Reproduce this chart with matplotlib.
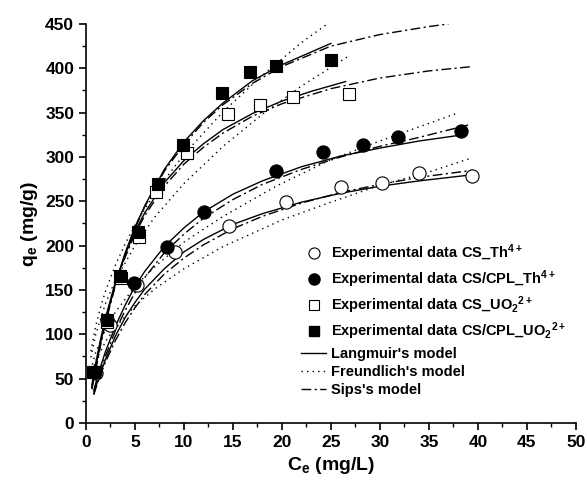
#!/usr/bin/env python3

import numpy as np
import matplotlib
matplotlib.use("Agg")
import matplotlib.pyplot as plt
from matplotlib.lines import Line2D
from matplotlib.ticker import MultipleLocator

plt.rcParams["font.family"] = ["Liberation Sans", "DejaVu Sans"]
plt.rcParams["font.weight"] = "bold"
plt.rcParams["mathtext.fontset"] = "custom"
plt.rcParams["mathtext.rm"] = "Liberation Sans:bold"
plt.rcParams["mathtext.bf"] = "Liberation Sans:bold"
plt.rcParams["mathtext.default"] = "bf"

# experimental data (Ce, qe)
cs_th_x = [1.0, 2.4, 5.2, 9.1, 14.6, 20.4, 26.0, 30.2, 34.0, 39.4]
cs_th_y = [56, 111, 156, 193, 222, 249, 266, 271, 282, 279]

cpl_th_x = [0.9, 2.1, 4.9, 8.3, 12.0, 19.4, 24.2, 28.3, 31.8, 38.3]
cpl_th_y = [57, 116, 158, 198, 238, 284, 306, 313, 323, 329]

cs_uo2_x = [0.75, 2.1, 3.6, 5.4, 7.1, 10.3, 14.5, 17.8, 21.1, 26.8]
cs_uo2_y = [57, 114, 163, 210, 261, 304, 348, 359, 368, 371]

cpl_uo2_x = [0.8, 2.1, 3.5, 5.3, 7.3, 9.9, 13.9, 16.7, 19.4, 25.0]
cpl_uo2_y = [57, 116, 166, 215, 269, 314, 372, 396, 402, 409]

# model curves
lang_uo2_cpl_x = [0.6, 1, 1.5, 2, 3, 4, 5, 6, 8, 10, 12, 14, 17, 20, 25]
lang_uo2_cpl_y = [40, 64, 91, 116, 157, 192, 221, 245, 286, 317, 341, 361, 386, 404, 428]
sips_uo2_cpl_x = [0.6, 1, 1.5, 2, 3, 4, 5, 6, 8, 10, 12, 14, 17, 20, 25, 30, 35, 37]
sips_uo2_cpl_y = [38, 60, 88, 113, 155, 190, 219, 244, 284, 314, 339, 359, 383, 402, 425, 438, 447, 450]
freu_uo2_cpl_x = [0.5, 1, 1.5, 2, 3, 4, 5, 7, 10, 14, 18, 22, 24.5]
freu_uo2_cpl_y = [81, 110, 131, 149, 178, 202, 223, 259, 303, 351, 392, 429, 449]

lang_uo2_cs_x = [0.6, 1, 1.5, 2, 3, 4, 5, 6, 8, 10, 12, 14, 17, 20, 23, 26.5]
lang_uo2_cs_y = [43, 68, 95, 119, 159, 190, 216, 237, 271, 296, 315, 331, 349, 363, 374, 385]
sips_uo2_cs_x = [0.6, 1, 1.5, 2, 3, 4, 5, 6, 8, 10, 12, 14, 17, 20, 25, 30, 35, 39.5]
sips_uo2_cs_y = [40, 64, 92, 116, 156, 187, 213, 234, 267, 292, 311, 327, 346, 360, 377, 389, 397, 402]
freu_uo2_cs_x = [0.5, 1, 2, 3, 5, 7, 10, 14, 18, 22, 26.7]
freu_uo2_cs_y = [74, 100, 135, 161, 200, 232, 270, 312, 348, 380, 413]

lang_th_cpl_x = [0.8, 1, 1.5, 2, 3, 4, 5, 6, 8, 10, 12, 15, 18, 22, 26, 30, 34, 38.5]
lang_th_cpl_y = [37, 45, 64, 81, 109, 133, 154, 171, 199, 220, 238, 258, 273, 289, 301, 310, 318, 325]
sips_th_cpl_x = [0.8, 1, 1.5, 2, 3, 4, 5, 6, 8, 10, 12, 15, 18, 22, 26, 30, 34, 39]
sips_th_cpl_y = [35, 43, 60, 76, 104, 127, 147, 164, 192, 213, 231, 252, 269, 286, 300, 312, 322, 336]
freu_th_cpl_x = [0.5, 1, 2, 3, 5, 7, 10, 14, 19.4, 25, 30, 37.8]
freu_th_cpl_y = [60, 80, 106, 125, 154, 176, 204, 233, 267, 297, 318, 349]

lang_th_cs_x = [0.8, 1, 1.5, 2, 3, 4, 5, 6, 8, 10, 12, 15, 18, 22, 26, 30, 34, 39.5]
lang_th_cs_y = [33, 41, 57, 72, 98, 119, 136, 151, 174, 193, 207, 224, 236, 249, 259, 267, 273, 280]
sips_th_cs_x = [0.8, 1, 1.5, 2, 3, 4, 5, 6, 8, 10, 12, 15, 18, 22, 26, 30, 34, 39.5]
sips_th_cs_y = [32, 39, 55, 69, 93, 113, 130, 145, 168, 186, 201, 219, 233, 248, 260, 269, 277, 285]
freu_th_cs_x = [0.5, 1, 2, 3, 5, 7, 10, 14, 20, 25, 30, 35, 39.4]
freu_th_cs_y = [53, 70, 92, 108, 132, 151, 174, 199, 229, 249, 268, 283, 299]

labels = [
    r"Experimental data CS_Th$^{4+}$",
    r"Experimental data CS/CPL_Th$^{4+}$",
    r"Experimental data CS_UO$_2$$^{2+}$",
    r"Experimental data CS/CPL_UO$_2$$^{2+}$",
    "Langmuir's model",
    "Freundlich's model",
    "Sips's model",
]


def main():
    fig = plt.figure(figsize=(5.87, 4.88), dpi=100)
    ax = fig.add_axes([0.1465, 0.1332, 0.8345, 0.8178])

    dot = (0, (1, 3))
    dashdot = (0, (7, 2.5, 1.5, 2.5))
    lw = 1.0

    for xs, ys in [(lang_uo2_cpl_x, lang_uo2_cpl_y), (lang_uo2_cs_x, lang_uo2_cs_y),
                   (lang_th_cpl_x, lang_th_cpl_y), (lang_th_cs_x, lang_th_cs_y)]:
        ax.plot(xs, ys, color="black", lw=lw, ls="-")
    for xs, ys in [(freu_uo2_cpl_x, freu_uo2_cpl_y), (freu_uo2_cs_x, freu_uo2_cs_y),
                   (freu_th_cpl_x, freu_th_cpl_y), (freu_th_cs_x, freu_th_cs_y)]:
        ax.plot(xs, ys, color="black", lw=lw, ls=dot)
    for xs, ys in [(sips_uo2_cpl_x, sips_uo2_cpl_y), (sips_uo2_cs_x, sips_uo2_cs_y),
                   (sips_th_cpl_x, sips_th_cpl_y), (sips_th_cs_x, sips_th_cs_y)]:
        ax.plot(xs, ys, color="black", lw=lw, ls=dashdot)

    ax.plot(cs_th_x, cs_th_y, "o", ms=9.5, mfc="white", mec="black", mew=0.8)
    ax.plot(cpl_th_x, cpl_th_y, "o", ms=9.5, mfc="black", mec="black", mew=0.8)
    ax.plot(cs_uo2_x, cs_uo2_y, "s", ms=8.5, mfc="white", mec="black", mew=0.8)
    ax.plot(cpl_uo2_x, cpl_uo2_y, "s", ms=8.5, mfc="black", mec="black", mew=0.8)

    ax.set_xlim(0, 50)
    ax.set_ylim(0, 450)
    ax.xaxis.set_major_locator(MultipleLocator(5))
    ax.xaxis.set_minor_locator(MultipleLocator(2.5))
    ax.yaxis.set_major_locator(MultipleLocator(50))
    ax.yaxis.set_minor_locator(MultipleLocator(25))
    ax.spines["top"].set_visible(False)
    ax.spines["right"].set_visible(False)
    ax.spines["left"].set_linewidth(1.2)
    ax.spines["bottom"].set_linewidth(1.2)
    ax.tick_params(which="major", direction="out", length=5, width=1.2, labelsize=12.5)
    ax.tick_params(which="minor", direction="out", length=3, width=1.0)
    for t in ax.get_xticklabels() + ax.get_yticklabels():
        t.set_fontweight("bold")

    ax.set_xlabel(r"C$_e$ (mg/L)", fontsize=14, fontweight="bold", labelpad=4)
    ax.set_ylabel(r"q$_e$ (mg/g)", fontsize=14, fontweight="bold", labelpad=4)

    handles = [
        Line2D([], [], ls="none", marker="o", ms=8, mfc="white", mec="black", mew=0.8),
        Line2D([], [], ls="none", marker="o", ms=8, mfc="black", mec="black"),
        Line2D([], [], ls="none", marker="s", ms=7, mfc="white", mec="black", mew=0.8),
        Line2D([], [], ls="none", marker="s", ms=7, mfc="black", mec="black"),
        Line2D([], [], color="black", lw=lw, ls="-"),
        Line2D([], [], color="black", lw=lw, ls=dot),
        Line2D([], [], color="black", lw=lw, ls=dashdot),
    ]
    ax.legend(handles, labels, loc="upper left", bbox_to_anchor=(0.425, 0.47),
              frameon=False, prop={"weight": "bold", "size": 10.5},
              handlelength=1.7, handletextpad=0.35, labelspacing=0.3, borderpad=0)

    fig.savefig("out.png", dpi=100)

    return 0


if __name__ == '__main__':
    main()
